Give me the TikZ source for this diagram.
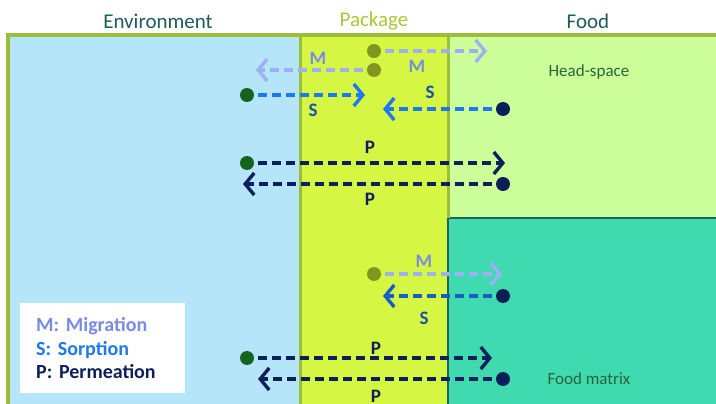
\documentclass[tikz,border=0pt]{standalone}
\usepackage{fontspec}
\setmainfont{Carlito}
\usepackage{xcolor}
\usetikzlibrary{arrows.meta,positioning}
\definecolor{envBlue}{RGB}{181,229,249}
\definecolor{pkgLime}{RGB}{214,246,68}
\definecolor{headGreen}{RGB}{204,255,153}
\definecolor{matrixTeal}{RGB}{64,218,176}
\definecolor{matrixEdge}{RGB}{26,100,88}
\definecolor{frameGreen}{RGB}{155,190,58}
\definecolor{titleTeal}{RGB}{30,92,86}
\definecolor{pkgTitle}{RGB}{168,200,58}
\definecolor{regionText}{RGB}{40,100,60}
\definecolor{migLine}{RGB}{160,175,245}
\definecolor{migText}{RGB}{120,140,225}
\definecolor{sorpLine}{RGB}{30,120,240}
\definecolor{sorpText}{RGB}{30,80,170}
\definecolor{permLine}{RGB}{14,32,92}
\definecolor{oliveDot}{RGB}{130,150,30}
\definecolor{envDot}{RGB}{20,100,30}
\definecolor{foodDot}{RGB}{10,30,90}

\tikzset{
  flowdot/.style={circle,inner sep=0pt,minimum width=14pt,minimum height=12pt},
  flowline/.style={line width=3.4pt,dash pattern=on 9pt off 5pt,shorten <=4pt,
    -{Straight Barb[length=9pt,width=22pt]}},
  flowlabel/.style={font=\bfseries\fontsize{19}{19}\selectfont},
  titletext/.style={font=\fontsize{21}{21}\selectfont}
}

\begin{document}
\begin{tikzpicture}[x=1pt,y=-1pt]
\useasboundingbox (0,0) rectangle (716,404);
% regions
\fill[envBlue] (8,35) rectangle (300,410);
\fill[pkgLime] (300,35) rectangle (448,410);
\fill[headGreen] (448,35) rectangle (720,218);
\fill[matrixTeal] (448,218) rectangle (720,410);
\draw[matrixEdge,line width=2.8pt] (448,410) -- (448,218) -- (720,218);
\draw[frameGreen,line width=3pt] (300,35) -- (300,410) (448,35) -- (448,218);
\draw[frameGreen,line width=4pt] (8,410) -- (8,35) -- (720,35);

\node[titletext,text=titleTeal] (envtitle) at (158,21) {Environment};
\node[titletext,text=pkgTitle] (pkgtitle) at (374,21) {Package};
\node[titletext,text=titleTeal] (foodtitle) at (588,21) {Food};
\node[font=\fontsize{17}{17}\selectfont,text=regionText] (headspace) at (589,72) {Head-space};
\node[font=\fontsize{17}{17}\selectfont,text=regionText] (foodmatrix) at (589,379) {Food matrix};

% legend
\node[fill=white,align=left,anchor=north west,text width=133pt,inner xsep=16pt,inner ysep=11pt,
  minimum height=90pt,font=\bfseries\fontsize{20}{23.5}\selectfont] (legend) at (20,303) {
\textcolor{migText}{M: Migration}\\
\textcolor{sorpLine}{S: Sorption}\\
\textcolor{permLine}{P: Permeation}};

% head-space exchanges
\node[flowdot,fill=oliveDot] (migA) at (374,51) {};
\coordinate (migAend) at (487,51);
\draw[flowline,migLine] (migA) -- (migAend);
\node[flowlabel,text=migText] (migAlabel) at (417,66) {M};

\node[flowdot,fill=oliveDot] (migB) at (374,70) {};
\coordinate (migBend) at (256,70);
\draw[flowline,migLine] (migB) -- (migBend);
\node[flowlabel,text=migText] (migBlabel) at (318,58) {M};

\node[flowdot,fill=envDot] (sorpA) at (247,95) {};
\coordinate (sorpAend) at (365,95);
\draw[flowline,sorpLine] (sorpA) -- (sorpAend);
\node[flowlabel,text=sorpText] (sorpAlabel) at (313,110) {S};

\node[flowdot,fill=foodDot] (sorpB) at (503,109) {};
\coordinate (sorpBend) at (383,109);
\draw[flowline,sorpLine] (sorpB) -- (sorpBend);
\node[flowlabel,text=sorpText] (sorpBlabel) at (430,92) {S};

\node[flowdot,fill=envDot] (permA) at (247,163) {};
\coordinate (permAend) at (505,163);
\draw[flowline,permLine] (permA) -- (permAend);
\node[flowlabel,text=permLine] (permAlabel) at (370,147) {P};

\node[flowdot,fill=foodDot] (permB) at (503,184) {};
\coordinate (permBend) at (243,184);
\draw[flowline,permLine] (permB) -- (permBend);
\node[flowlabel,text=permLine] (permBlabel) at (370,199) {P};

% food matrix exchanges
\node[flowdot,fill=oliveDot] (migC) at (374,274) {};
\coordinate (migCend) at (502,274);
\draw[flowline,migLine] (migC) -- (migCend);
\node[flowlabel,text=migText] (migClabel) at (424,261) {M};

\node[flowdot,fill=foodDot] (sorpC) at (503,296) {};
\coordinate (sorpCend) at (383,296);
\draw[flowline,sorpLine!70!permLine] (sorpC) -- (sorpCend);
\node[flowlabel,text=sorpText] (sorpClabel) at (424,318) {S};

\node[flowdot,fill=envDot] (permC) at (247,358) {};
\coordinate (permCend) at (492,358);
\draw[flowline,permLine] (permC) -- (permCend);
\node[flowlabel,text=permLine] (permClabel) at (376,348) {P};

\node[flowdot,fill=foodDot] (permD) at (503,379) {};
\coordinate (permDend) at (258,379);
\draw[flowline,permLine] (permD) -- (permDend);
\node[flowlabel,text=permLine] (permDlabel) at (376,396) {P};
\end{tikzpicture}
\end{document}
